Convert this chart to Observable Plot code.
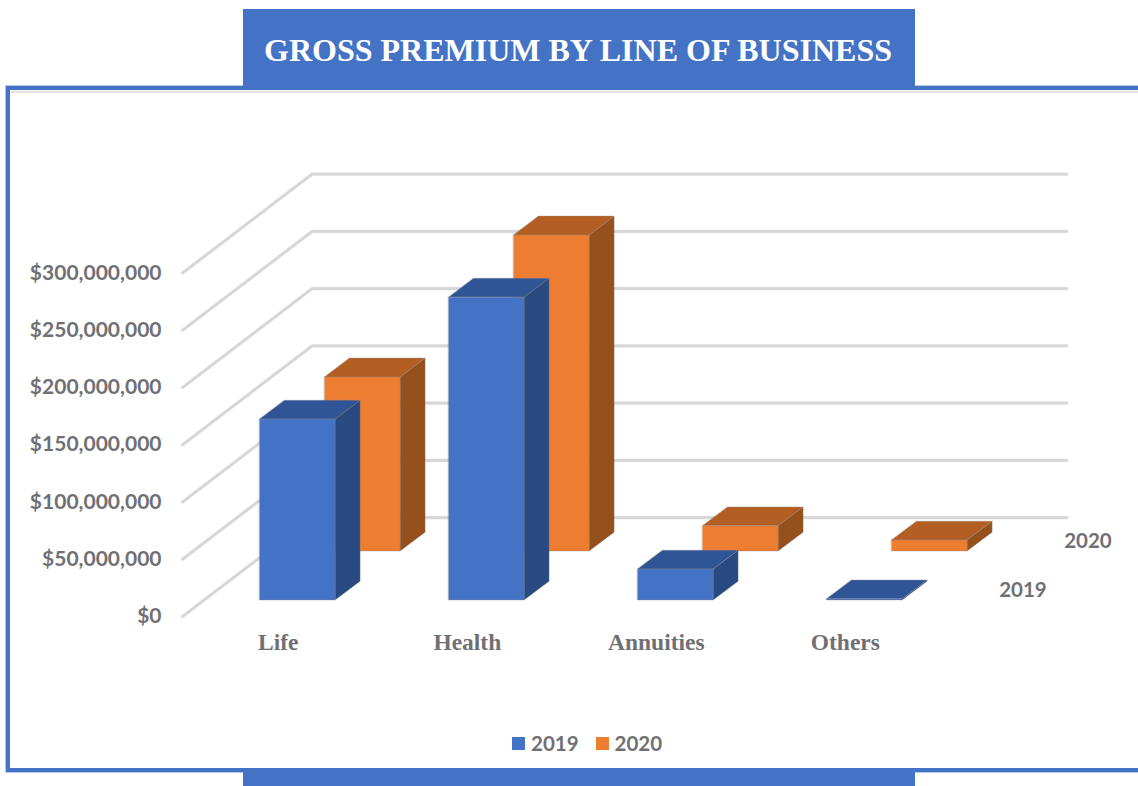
<!DOCTYPE html>
<html>
<head>
<meta charset="utf-8">
<title>Gross premium by line of business</title>
<script src="https://cdn.jsdelivr.net/npm/d3@7"></script>
<script src="https://cdn.jsdelivr.net/npm/@observablehq/plot@0.6"></script>
<style>
  html, body { margin: 0; padding: 0; background: #fff; }
  #page { position: relative; width: 1138px; height: 786px; overflow: hidden; background: #fff; }
  #page svg { position: absolute; left: 0; top: 0; background: transparent; }
  .band { position: absolute; background: #4472c4; }
  #frame { position: absolute; left: 5px; top: 85px; width: 1140px; height: 678px;
           border: 5.5px solid #4472c4; box-sizing: content-box;
           outline: 1px solid #b4c7e7; outline-offset: -1px; }
  #inner { position: absolute; left: 10.5px; top: 91px; width: 1130px; height: 2px; background: #e2e2e2; }
  #title { position: absolute; left: 242px; top: 9px; width: 672px; height: 77px; color: #fff;
           font: bold 32px "Liberation Serif", serif; text-align: center; line-height: 82px; white-space: nowrap; }
  #titleBand { left: 243px; top: 9px; width: 672px; height: 77px; }
  #bottom { left: 243px; top: 770px; width: 672px; height: 16px; }
  #legend { position: absolute; left: 512px; top: 730px; height: 26px; display: flex; align-items: center;
            font: 700 20.5px Lato, sans-serif; color: #707074; }
  #legend i { display: inline-block; width: 13px; height: 13px; margin-right: 6px; }
  #legend span { margin-right: 17px; }
</style>
</head>
<body>
<div id="page">
  <div id="frame"></div>
  <div id="inner"></div>
  <div id="titleBand" class="band"></div>
  <div id="title">GROSS PREMIUM BY LINE OF BUSINESS</div>
  <div id="bottom" class="band"></div>
  <div id="legend">
    <i style="background:#4472c4"></i><span>2019</span>
    <i style="background:#ed7d31"></i><span>2020</span>
  </div>
</div>
<script>
// Premium figures in dollars, one list per year.
const lines = ["Life", "Health", "Annuities", "Others"];
const years = ["2019", "2020"];
const premium2019 = [158e6, 264.5e6, 27e6, 1e6];
const premium2020 = [152e6, 276e6, 22e6, 9.6e6];
const gridTicks = [0, 50e6, 100e6, 150e6, 200e6, 250e6, 300e6];

// Oblique projection: one unit of depth (one year row) shifts a point
// right in category units and up in dollar units.
const depthX = 65 / 189;
const depthY = 42.79e6;
const at = (c, v, d) => ({x: c + d * depthX, y: v + d * depthY});

const wallDepth = 2.02;
const wallStart = -0.008;
const wallEnd = 3.985;
const barHalfWidth = 0.2;
const barOffset = 0.4915;
const rowFront = 0.337;
const rowDepth = 0.385;

const shades = {
  "2019": {front: "#4472c4", side: "#284a80", top: "#2f5597"},
  "2020": {front: "#ed7d31", side: "#96501c", top: "#b35e22"}
};

// Build the three visible faces of one box as closed polygons.
function boxFaces(i, value, row) {
  const c0 = i + barOffset - barHalfWidth, c1 = i + barOffset + barHalfWidth;
  const d0 = row + rowFront, d1 = d0 + rowDepth;
  const id = `${i}-${row}`;
  const tag = (face, pts) => pts.map(p => ({...p, id: `${id}-${face}`, face}));
  return [
    ...tag("side", [at(c1, 0, d0), at(c1, 0, d1), at(c1, value, d1), at(c1, value, d0)]),
    ...tag("top", [at(c0, value, d0), at(c1, value, d0), at(c1, value, d1), at(c0, value, d1)]),
    ...tag("front", [at(c0, 0, d0), at(c1, 0, d0), at(c1, value, d0), at(c0, value, d0)])
  ];
}

// The rear row goes down first so that the front row overlaps it.
function boxMarks(values, row, year) {
  const faces = values.flatMap((v, i) => boxFaces(i, v, row));
  return ["side", "top", "front"].map(face =>
    Plot.line(faces.filter(p => p.face === face), {
      x: "x", y: "y", z: "id", curve: "linear-closed",
      fill: shades[year][face], stroke: "#8a8a8a", strokeOpacity: 0.35, strokeWidth: 1
    })
  );
}

const wallLines = gridTicks.map(v => [at(0, v, 0), at(wallStart, v, wallDepth), at(wallEnd, v, wallDepth)]);
const wallStyle = {x: "x", y: "y", curve: "linear", strokeLinecap: "round", strokeLinejoin: "round"};

const chart = Plot.plot({
  width: 1138,
  height: 786,
  margin: 0,
  x: {axis: null, domain: [0, 4], range: [182, 938]},
  y: {axis: null, domain: [0, 300e6], range: [616, 272.5]},
  marks: [
    ...wallLines.map(l => Plot.line(l, {...wallStyle, stroke: "#bdbdbd", strokeWidth: 3.2, strokeOpacity: 0.55})),
    ...wallLines.map(l => Plot.line(l, {...wallStyle, stroke: "#d6d6d6", strokeWidth: 1.8})),
    ...boxMarks(premium2020, 1, "2020"),
    ...boxMarks(premium2019, 0, "2019"),
    // Dollar labels sit at the front end of each wall line.
    Plot.text(gridTicks, {
      x: () => 0, y: d => d, text: d3.format("$,"), textAnchor: "end", dx: -21, dy: 0,
      fontFamily: "Lato, sans-serif", fontWeight: 700, fontSize: 21, fill: "#707074"
    }),
    // Line-of-business labels below the floor.
    Plot.text(lines, {
      x: (d, i) => i + 0.507, y: () => 0, text: d => d, dy: 26,
      fontFamily: "Liberation Serif, serif", fontWeight: 700, fontSize: 23.5, fill: "#707074"
    }),
    // Year labels at the right-hand end of each row.
    Plot.text(years, {
      x: (d, i) => at(4, 0, i + 0.53).x, y: (d, i) => at(4, 0, i + 0.53).y, text: d => d, dx: 50,
      fontFamily: "Lato, sans-serif", fontWeight: 700, fontSize: 20.5, fill: "#707074"
    })
  ]
});
document.getElementById("page").appendChild(chart);
</script>
</body>
</html>
